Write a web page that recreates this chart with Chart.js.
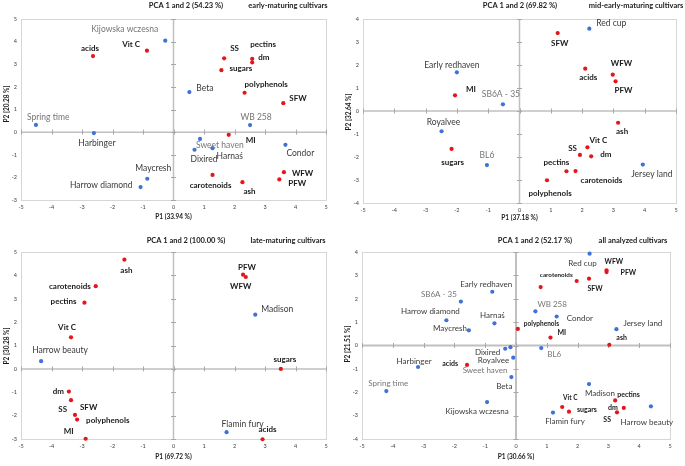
<!DOCTYPE html>
<html><head><meta charset="utf-8">
<script src="https://cdn.jsdelivr.net/npm/chart.js@4"></script>
<style>
html,body{margin:0;padding:0;background:#fff;width:685px;height:466px;overflow:hidden}
canvas{position:absolute}
</style></head><body>
<canvas id="c1" width="342" height="230" style="left:0;top:0"></canvas>
<canvas id="c2" width="343" height="230" style="left:342px;top:0"></canvas>
<canvas id="c3" width="342" height="236" style="left:0;top:230px"></canvas>
<canvas id="c4" width="343" height="236" style="left:342px;top:230px"></canvas>
<script>
// ---------- DATA ----------
const xTicks = [-5,-4,-3,-2,-1,0,1,2,3,4,5];

// early-maturing cultivars
const earlyTraits = ['acids','Vit C','SS','pectins','dm','sugars','polyphenols','SFW','MI','WFW','PFW','carotenoids','ash'];
const earlyTraitP1 = [-2.64,-0.87,1.66,2.58,2.58,1.57,2.33,3.60,1.81,3.62,3.47,1.28,2.26];
const earlyTraitP2 = [3.36,3.60,3.26,3.24,3.08,2.74,1.74,1.28,-0.12,-1.77,-2.09,-1.89,-2.21];
const earlyCultivars = ['Kijowska wczesna','Beta','Spring time','WB 258','Harbinger','Sweet haven','Harnaś','Dixired','Condor','Maycresh','Harrow diamond'];
const earlyCultP1 = [-0.27,0.52,-4.51,2.51,-2.61,0.87,1.28,0.69,3.67,-0.86,-1.08];
const earlyCultP2 = [4.04,1.77,0.32,0.31,-0.04,-0.30,-0.71,-0.78,-0.56,-2.06,-2.43];

// mid-early-maturing cultivars
const midTraits = ['SFW','acids','WFW','PFW','MI','sugars','ash','Vit C','SS','dm','pectins','carotenoids','polyphenols'];
const midTraitP1 = [1.22,2.10,2.98,3.07,-2.06,-2.17,3.15,2.17,1.93,2.29,1.50,1.79,0.88];
const midTraitP2 = [3.39,1.84,1.58,1.29,0.68,-1.65,-0.51,-1.58,-1.91,-1.97,-2.62,-2.61,-3.01];
const midCultivars = ['Red cup','Early redhaven','SB6A - 35','Royalvee','BL6','Jersey land'];
const midCultP1 = [2.23,-2.00,-0.53,-2.49,-1.04,3.94];
const midCultP2 = [3.58,1.68,0.29,-0.88,-2.35,-2.33];

// late-maturing cultivars
const lateTraits = ['ash','carotenoids','pectins','Vit C','PFW','WFW','sugars','dm','SS','SFW','polyphenols','MI','acids'];
const lateTraitP1 = [-1.61,-2.55,-2.92,-3.36,2.28,2.37,3.52,-3.43,-3.36,-3.23,-3.16,-2.88,2.92];
const lateTraitP2 = [4.67,3.54,2.83,1.35,4.03,3.93,0.00,-0.97,-1.34,-1.97,-2.17,-2.99,-3.01];
const lateCultivars = ['Madison','Harrow beauty','Flamin fury'];
const lateCultP1 = [2.68,-4.34,1.74];
const lateCultP2 = [2.32,0.33,-2.71];

// all analyzed cultivars
const allTraits = ['WFW','PFW','carotenoids','SFW','','polyphenols','MI','ash','acids','Vit C','sugars','pectins','dm','SS'];
const allTraitP1 = [2.94,2.94,1.97,2.37,0.80,0.06,1.12,3.03,-1.59,1.50,1.72,3.22,3.50,3.28];
const allTraitP2 = [3.22,3.14,2.76,2.86,2.50,0.71,0.34,0.03,-0.83,-2.63,-2.83,-2.35,-2.67,-2.86];
const allCultivars = ['Red cup','Early redhaven','SB6A - 35','Harrow diamond','Harnaś','Maycresh','WB 258','Condor','Jersey land','Dixired','Sweet haven','Royalvee','Beta','BL6','Harbinger','Spring time','Kijowska wczesna','Madison','Flamin fury','Harrow beauty'];
const allCultP1 = [2.39,-0.77,-1.79,-2.26,-0.70,-1.53,0.63,1.32,3.26,-0.35,-0.18,-0.09,-0.15,0.82,-3.18,-4.21,-0.94,2.37,1.20,4.38];
const allCultP2 = [3.93,2.30,1.88,1.08,0.95,0.65,1.46,1.24,0.70,-0.14,-0.07,-0.52,-1.35,-0.11,-0.92,-1.95,-2.42,-1.65,-2.87,-2.60];

const panelTitles = ['PCA 1 and 2 (54.23 %)','PCA 1 and 2 (69.82 %)','PCA 1 and 2 (100.00 %)','PCA 1 and 2 (52.17 %)'];
const panelSubtitles = ['early-maturing cultivars','mid-early-maturing cultivars','late-maturing cultivars','all analyzed cultivars'];
const xTitles = ['P1 (33.94 %)','P1 (37.18 %)','P1 (69.72 %)','P1 (30.66 %)'];
const yTitles = ['P2 [20.28 %]','P2 [32.64 %]','P2 [30.28 %]','P2 [21.51 %]'];

// ---------- LABEL PLACEMENT (offset px from the point, alignment, optional size) ----------
const earlyTraitPos = [[-3,-8,'c'],[-7,-6,'r'],[6,-10,'l'],[-2,-14,'l'],[6,-5,'l'],[8,-2,'l'],[0,-8,'l'],[6,-5,'l'],[17,6,'l'],[8,1,'l'],[9,4,'l'],[-2,11,'c'],[1,9,'l']];
const earlyCultPos = [[-7,-11,'r'],[7,-4,'l'],[-9,-8,'l'],[6,-8,'c'],[3,10,'c'],[-4,6,'l'],[4,8,'l'],[-4,9,'l'],[1,8,'l'],[6,-10,'c'],[-8,-2,'r']];
const midTraitPos = [[2,10,'c'],[3,9,'c'],[-2,-11,'l'],[-1,9,'l'],[11,-6,'l'],[1,13,'c'],[4,9,'c'],[2,-7,'l'],[-3,-7,'r'],[9,-2,'l'],[-10,-9,'c'],[5,9,'l'],[3,13,'c']];
const midCultPos = [[7,-5,'l'],[-5,-7,'c'],[-2,-10,'c'],[2,-9,'c'],[0,-10,'c'],[9,10,'c']];
const lateTraitPos = [[2,11,'c'],[-5,0,'r'],[-8,-1,'r'],[-4,-10,'c'],[4,-7,'c'],[-5,9,'c'],[4,-9,'c'],[-5,0,'r'],[-4,9,'r'],[5,-8,'l'],[9,1,'l'],[-12,-7,'r'],[5,-10,'c']];
const lateCultPos = [[6,-5,'l'],[-9,-11,'l'],[-5,-8,'l']];
const allTraitPos = [[-2,-8,'l',7],[14,1,'l',7],[-4,-6,'r',6.3],[6,10,'c',7],[0,0,'c'],[6,-5,'l',6.5],[7,-5,'l',7],[7,-7,'l',7],[-9,-1,'r',7],[8,-9,'c',6.5],[8,-2,'l',7],[2,-6,'l',7],[-6,0,'r',7],[-6,7,'r',7]];
const allCultPos = [[7,10,'r'],[-6,-7,'c'],[-4,-7,'r'],[-16,-9,'c'],[-2,-8,'c'],[-2,-2,'r'],[2,-7,'l'],[10,2,'l'],[7,-6,'l'],[-5,4,'r'],[-3,23,'r'],[-4,3,'r'],[1,9,'r'],[6,6,'l'],[-4,-6,'c'],[2,-8,'c'],[-10,9,'c'],[11,9,'c'],[12,9,'c'],[-4,16,'c']];

const grayNamesEarly = ['Kijowska wczesna','Spring time','WB 258','Sweet haven','SB6A - 35','BL6'];
const grayNamesAll = ['Spring time','WB 258','Sweet haven','SB6A - 35','BL6'];

const FONT = 'Lato, "Liberation Sans", sans-serif';
const RED = '#e4161b', BLUE = '#3e72d8';

const pcaPlugin = {
  id: 'pca',
  beforeDatasetsDraw(chart) {
    const {ctx, chartArea: a, scales: {x, y}} = chart;
    const o = chart.options.plugins.pca;
    ctx.save();
    ctx.strokeStyle = '#d6d6d6'; ctx.lineWidth = 1;
    ctx.strokeRect(Math.round(a.left) + 0.5, Math.round(a.top) + 0.5, Math.round(a.width), Math.round(a.height));
    const x0 = x.getPixelForValue(0), y0 = y.getPixelForValue(0);
    ctx.strokeStyle = '#c0c0c0'; ctx.lineWidth = o.axisWidth;
    ctx.beginPath();
    ctx.moveTo(x0, a.top); ctx.lineTo(x0, a.bottom);
    ctx.moveTo(a.left, y0); ctx.lineTo(a.right, y0);
    ctx.stroke();
    ctx.lineWidth = 1; ctx.strokeStyle = '#a8a8a8';
    ctx.beginPath();
    x.ticks.forEach(t => { const p = Math.round(x.getPixelForValue(t.value)) + 0.5; ctx.moveTo(p, y0 - 2.5); ctx.lineTo(p, y0 + 2.5); });
    y.ticks.forEach(t => { const p = Math.round(y.getPixelForValue(t.value)) + 0.5; ctx.moveTo(x0 - 2.5, p); ctx.lineTo(x0 + 2.5, p); });
    ctx.stroke();
    ctx.restore();
  },
  afterDatasetsDraw(chart) {
    const ctx = chart.ctx;
    const o = chart.options.plugins.pca;
    ctx.save();
    ctx.textBaseline = 'middle';
    chart.data.datasets.forEach((ds, di) => {
      const meta = chart.getDatasetMeta(di);
      meta.data.forEach((pt, i) => {
        const name = ds.names[i];
        if (!name) return;
        const pos = ds.pos[i];
        const size = pos[3] || (ds.isTrait ? o.traitSize : o.cultSize);
        ctx.font = (ds.isTrait ? 'bold ' : '') + size + 'px ' + FONT;
        ctx.fillStyle = ds.isTrait ? '#1a1a1a' : (o.gray.includes(name) ? '#767676' : '#3a3a3a');
        ctx.textAlign = pos[2] === 'l' ? 'left' : (pos[2] === 'r' ? 'right' : 'center');
        ctx.fillText(name, pt.x + pos[0], pt.y + pos[1]);
      });
    });
    ctx.restore();
  },
  afterDraw(chart) {
    const ctx = chart.ctx;
    const o = chart.options.plugins.pca;
    const a = chart.chartArea;
    ctx.save();
    ctx.fillStyle = '#1a1a1a';
    ctx.textBaseline = 'middle'; ctx.textAlign = 'center';
    ctx.font = 'bold 7.5px ' + FONT;
    ctx.fillText(o.title, o.titleX, o.titleY);
    ctx.fillText(o.subtitle, o.subX, o.titleY);
    ctx.font = 'bold 6.5px ' + FONT;
    ctx.fillText(o.xTitle, (a.left + a.right) / 2, o.xTitleY);
    ctx.translate(o.yTitleX, o.yTitleY);
    ctx.rotate(-Math.PI / 2);
    ctx.fillText(o.yTitle, 0, 0);
    ctx.restore();
  }
};

function makePanel(id, k, tr, cu, yMin, yMax, box, text) {
  const canvas = document.getElementById(id);
  const H = canvas.height, W = canvas.width;
  const tickFont = {size: 5.5, family: FONT};
  return new Chart(canvas, {
    type: 'scatter',
    data: {
      datasets: [
        {isTrait: true, names: tr[0], pos: tr[3], data: tr[0].map((n, i) => ({x: tr[1][i], y: tr[2][i]})),
         pointRadius: 2.1, pointBackgroundColor: RED, pointBorderWidth: 0, clip: false},
        {isTrait: false, names: cu[0], pos: cu[3], data: cu[0].map((n, i) => ({x: cu[1][i], y: cu[2][i]})),
         pointRadius: 2.1, pointBackgroundColor: BLUE, pointBorderWidth: 0, clip: false}
      ]
    },
    options: {
      responsive: false, animation: false, devicePixelRatio: 1,
      layout: {padding: {top: box.top, right: W - box.right, left: 0, bottom: 0}},
      plugins: {
        legend: {display: false}, tooltip: {enabled: false},
        pca: Object.assign({title: panelTitles[k], subtitle: panelSubtitles[k], xTitle: xTitles[k], yTitle: yTitles[k]}, text)
      },
      scales: {
        x: {type: 'linear', min: xTicks[0], max: xTicks[xTicks.length - 1],
            ticks: {stepSize: 1, font: tickFont, color: '#404040', padding: 4, maxRotation: 0, autoSkip: false},
            grid: {display: false, drawTicks: false}, border: {display: false},
            afterFit(s) { s.height = H - box.bottom; }},
        y: {type: 'linear', min: yMin, max: yMax,
            ticks: {stepSize: 1, font: tickFont, color: '#404040', padding: 4, autoSkip: false},
            grid: {display: false, drawTicks: false}, border: {display: false},
            afterFit(s) { s.width = box.left; }}
      }
    },
    plugins: [pcaPlugin]
  });
}

makePanel('c1', 0,
  [earlyTraits, earlyTraitP1, earlyTraitP2, earlyTraitPos],
  [earlyCultivars, earlyCultP1, earlyCultP2, earlyCultPos],
  -3, 5, {left: 21, right: 326, top: 19, bottom: 200},
  {titleX: 186, subX: 288, titleY: 6, xTitleY: 217, yTitleX: 7, yTitleY: 104, axisWidth: 1.5, traitSize: 8, cultSize: 8.5, gray: grayNamesEarly});

makePanel('c2', 1,
  [midTraits, midTraitP1, midTraitP2, midTraitPos],
  [midCultivars, midCultP1, midCultP2, midCultPos],
  -4, 4, {left: 21, right: 334, top: 19, bottom: 203},
  {titleX: 178, subX: 294, titleY: 6, xTitleY: 218, yTitleX: 7, yTitleY: 112, axisWidth: 1.5, traitSize: 8, cultSize: 8.5, gray: grayNamesAll});

makePanel('c3', 2,
  [lateTraits, lateTraitP1, lateTraitP2, lateTraitPos],
  [lateCultivars, lateCultP1, lateCultP2, lateCultPos],
  -3, 5, {left: 21, right: 326, top: 22, bottom: 209},
  {titleX: 186, subX: 288, titleY: 11, xTitleY: 227, yTitleX: 7, yTitleY: 116, axisWidth: 1.5, traitSize: 8, cultSize: 8.5, gray: grayNamesAll});

makePanel('c4', 3,
  [allTraits, allTraitP1, allTraitP2, allTraitPos],
  [allCultivars, allCultP1, allCultP2, allCultPos],
  -4, 4, {left: 20, right: 328, top: 22, bottom: 209},
  {titleX: 193, subX: 291, titleY: 11, xTitleY: 227, yTitleX: 6, yTitleY: 114, axisWidth: 2, traitSize: 7, cultSize: 8, gray: grayNamesAll});
</script>
</body></html>
